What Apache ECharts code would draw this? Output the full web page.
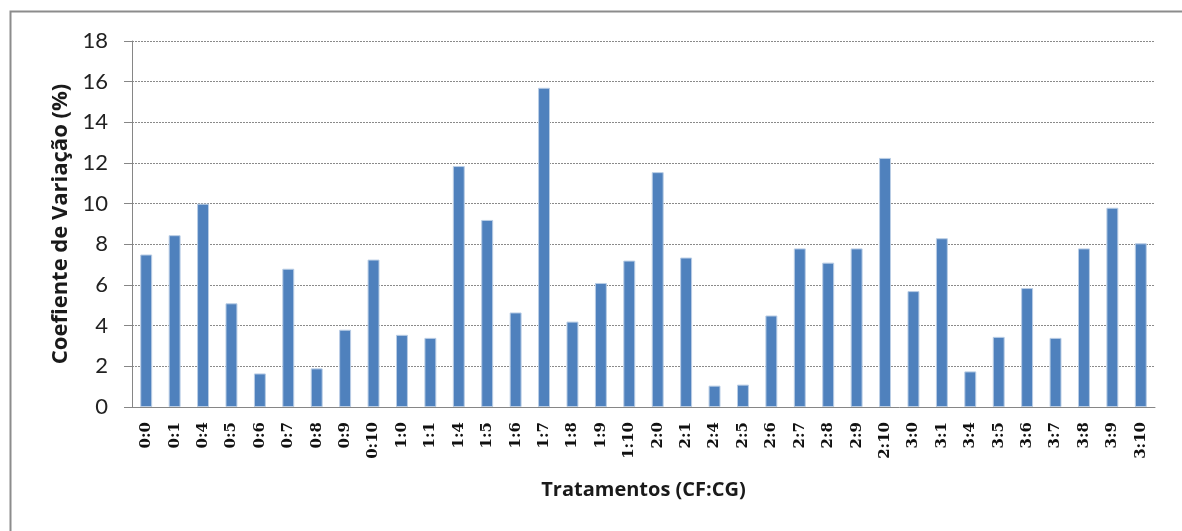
<!DOCTYPE html>
<html>
<head>
<meta charset="utf-8">
<script src="https://cdn.jsdelivr.net/npm/echarts@6/dist/echarts.min.js"></script>
<style>
  html, body { margin: 0; padding: 0; background: #fff; }
  #chart { width: 1182px; height: 531px; }
</style>
</head>
<body>
<div id="chart"></div>
<script>
  // tratamentos (CF:CG)
  let categories = ['0:0', '0:1', '0:4', '0:5', '0:6', '0:7', '0:8', '0:9', '0:10',
    '1:0', '1:1', '1:4', '1:5', '1:6', '1:7', '1:8', '1:9', '1:10',
    '2:0', '2:1', '2:4', '2:5', '2:6', '2:7', '2:8', '2:9', '2:10',
    '3:0', '3:1', '3:4', '3:5', '3:6', '3:7', '3:8', '3:9', '3:10'];
  // coeficiente de variacao (%)
  let cvValues = [7.5, 8.45, 10.0, 5.1, 1.65, 6.8, 1.9, 3.8, 7.25,
    3.55, 3.4, 11.85, 9.2, 4.65, 15.7, 4.2, 6.1, 7.2,
    11.55, 7.35, 1.05, 1.1, 4.5, 7.8, 7.1, 7.8, 12.25,
    5.7, 8.3, 1.75, 3.45, 5.85, 3.4, 7.8, 9.8, 8.05];
  let yTicks = { min: 0, max: 18, interval: 2 };

  let myChart = echarts.init(document.getElementById('chart'));
  let option = {
    animation: false,
    backgroundColor: '#fff',
    graphic: [
      {
        // chart frame, only left and top edges are visible
        type: 'rect',
        shape: { x: 10.5, y: 11.5, width: 1200, height: 600 },
        style: { fill: 'none', stroke: '#8c8c8c', lineWidth: 2 },
        silent: true
      }
    ],
    grid: {
      left: 132,
      right: 27,
      top: 41,
      bottom: 124
    },
    xAxis: {
      type: 'category',
      data: categories,
      name: 'Tratamentos (CF:CG)',
      nameLocation: 'middle',
      nameGap: 73,
      nameTextStyle: {
        fontFamily: 'Open Sans',
        fontWeight: 'bold',
        fontSize: 20,
        color: '#1a1a1a'
      },
      axisLine: { lineStyle: { color: '#868686', width: 1 } },
      axisTick: { alignWithLabel: false, length: 7, lineStyle: { color: '#868686' } },
      axisLabel: {
        rotate: 90,
        interval: 0,
        margin: 15,
        fontFamily: 'DejaVu Serif',
        fontWeight: 'bold',
        fontSize: 15,
        color: '#111'
      }
    },
    yAxis: {
      type: 'value',
      min: yTicks.min,
      max: yTicks.max,
      interval: yTicks.interval,
      name: 'Coefiente de Variação (%)',
      nameLocation: 'middle',
      nameGap: 57,
      nameTextStyle: {
        fontFamily: 'Open Sans',
        fontWeight: 'bold',
        fontSize: 22,
        color: '#1a1a1a'
      },
      axisLine: { show: true, lineStyle: { color: '#868686', width: 1 } },
      axisTick: { show: true, length: 8, lineStyle: { color: '#868686' } },
      axisLabel: {
        margin: 24,
        fontFamily: 'Lato',
        fontSize: 22,
        color: '#222'
      },
      splitLine: {
        lineStyle: { color: '#8a8a8a', type: [2, 1], width: 1 }
      }
    },
    series: [
      {
        type: 'bar',
        data: cvValues,
        barWidth: '42%',
        itemStyle: {
          color: '#4f81bd',
          borderColor: '#b9cde5',
          borderWidth: 1
        }
      }
    ]
  };
  myChart.setOption(option);
</script>
</body>
</html>
